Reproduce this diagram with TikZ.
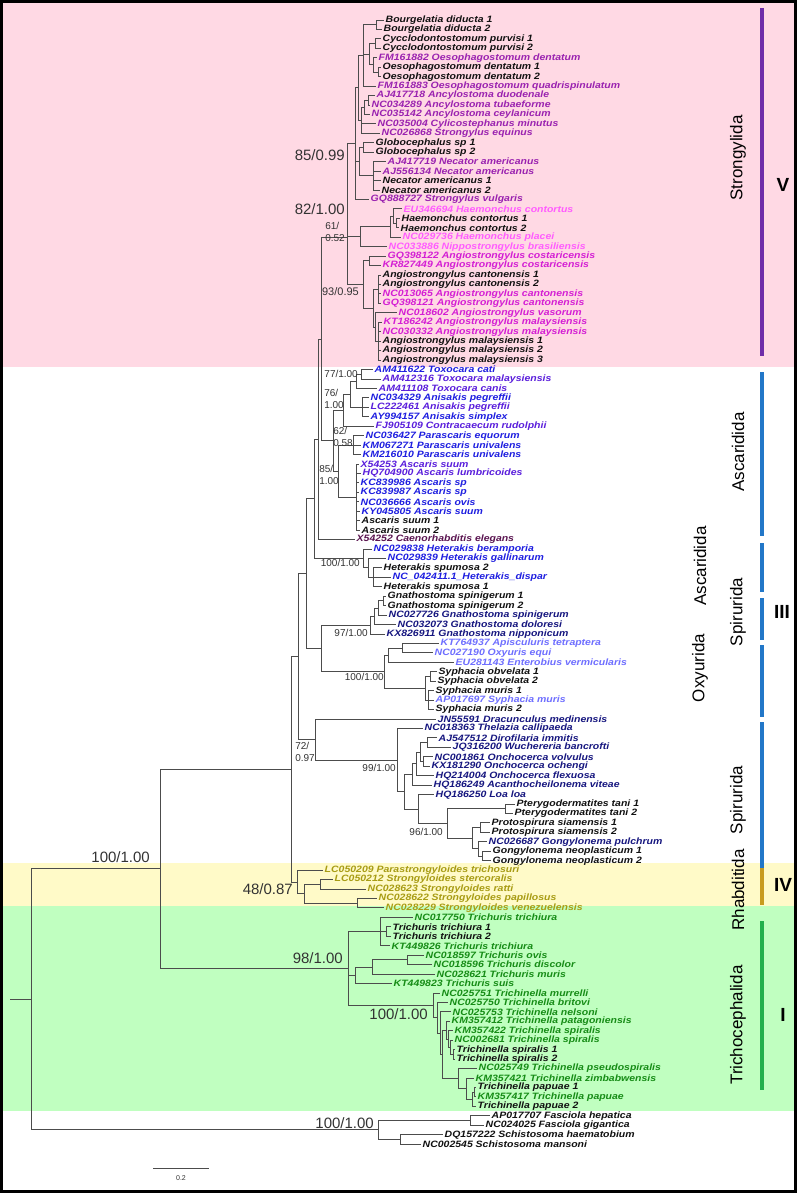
\documentclass[tikz,border=0pt]{standalone}
\usepackage{fontspec}
\setmainfont{Liberation Sans}
\newfontfamily\tipf[FakeStretch=1.14]{Liberation Sans}
\usetikzlibrary{calc}
\definecolor{cK}{HTML}{111111}
\definecolor{cP}{HTML}{9A22B0}
\definecolor{cPK}{HTML}{FF5CFF}
\definecolor{cM}{HTML}{D41ED4}
\definecolor{cB}{HTML}{1E1EE0}
\definecolor{cBV}{HTML}{5A1EDC}
\definecolor{cMR}{HTML}{5A1450}
\definecolor{cN}{HTML}{16167F}
\definecolor{cLB}{HTML}{6E6EFF}
\definecolor{cO}{HTML}{A89C14}
\definecolor{cG}{HTML}{168C16}
\definecolor{bgpink}{HTML}{FFD9E4}
\definecolor{bgyel}{HTML}{FFFAC8}
\definecolor{bggrn}{HTML}{C0FFC0}
\definecolor{barP}{HTML}{6F2DA8}
\definecolor{barB}{HTML}{2277C8}
\definecolor{barO}{HTML}{C89B1E}
\definecolor{barG}{HTML}{22B04C}
\definecolor{bsc}{HTML}{333333}
\newcommand\tp[4]{\coordinate (t#1) at (#2,{20+(#1-1)*9.446}); \node[tl,text=#3] (L#1) at (t#1) {#4};}
\newcommand\cl[4]{\path let \p1=($(#3)!.5!(#4)$) in coordinate (#1) at (#2pt,\y1); \draw[br] (#1) |- (#3); \draw[br] (#1) |- (#4);}
\newcommand\clm[5]{\cl{#1}{#2}{#3}{#4}\foreach \c in {#5}{\draw[br] (#1) |- (\c);}}
\begin{document}
\begin{tikzpicture}[x=1pt,y=-1pt,
  tl/.style={anchor=west,inner sep=0pt,xshift=1.5pt,font=\tipf\fontsize{9.2}{10}\selectfont\bfseries\itshape},
  br/.style={draw=black!70,line width=0.9pt},
  bbig/.style={text=bsc,inner sep=0pt,anchor=east,font=\fontsize{15}{16}\selectfont},
  bsm/.style={text=bsc,inner sep=0pt,anchor=east,font=\fontsize{10}{12}\selectfont,align=left},
  clab/.style={rotate=90,inner sep=0pt,font=\fontsize{17}{18}\selectfont},
  roman/.style={inner sep=0pt,font=\fontsize{19}{20}\selectfont\bfseries},
  bar/.style={line width=4pt}]
\useasboundingbox (0,0) rectangle (797,1193);
\fill[white] (0,0) rectangle (797,1193);
\fill[bgpink] (0,0) rectangle (797,367);
\fill[bgyel] (0,863) rectangle (797,906);
\fill[bggrn] (0,906) rectangle (797,1111);
% tips
\tp{1}{384}{cK}{Bourgelatia diducta 1}
\tp{2}{382}{cK}{Bourgelatia diducta 2}
\tp{3}{381}{cK}{Cycclodontostomum purvisi 1}
\tp{4}{381}{cK}{Cycclodontostomum purvisi 2}
\tp{5}{377}{cP}{FM161882 Oesophagostomum dentatum}
\tp{6}{381}{cK}{Oesophagostomum dentatum 1}
\tp{7}{381}{cK}{Oesophagostomum dentatum 2}
\tp{8}{376}{cP}{FM161883 Oesophagostomum quadrispinulatum}
\tp{9}{375}{cP}{AJ417718 Ancylostoma duodenale}
\tp{10}{370}{cP}{NC034289 Ancylostoma tubaeforme}
\tp{11}{370}{cP}{NC035142 Ancylostoma ceylanicum}
\tp{12}{376}{cP}{NC035004 Cylicostephanus minutus}
\tp{13}{380}{cP}{NC026868 Strongylus equinus}
\tp{14}{374}{cK}{Globocephalus sp 1}
\tp{15}{374}{cK}{Globocephalus sp 2}
\tp{16}{386}{cP}{AJ417719 Necator americanus}
\tp{17}{381}{cP}{AJ556134 Necator americanus}
\tp{18}{381}{cK}{Necator americanus 1}
\tp{19}{380}{cK}{Necator americanus 2}
\tp{20}{369}{cP}{GQ888727 Strongylus vulgaris}
\tp{21}{402}{cPK}{EU346694 Haemonchus contortus}
\tp{22}{400}{cK}{Haemonchus contortus 1}
\tp{23}{399}{cK}{Haemonchus contortus 2}
\tp{24}{401}{cPK}{NC029736 Haemonchus placei}
\tp{25}{387}{cPK}{NC033886 Nippostrongylus brasiliensis}
\tp{26}{386}{cM}{GQ398122 Angiostrongylus costaricensis}
\tp{27}{381}{cM}{KR827449 Angiostrongylus costaricensis}
\tp{28}{381}{cK}{Angiostrongylus cantonensis 1}
\tp{29}{381}{cK}{Angiostrongylus cantonensis 2}
\tp{30}{381}{cM}{NC013065 Angiostrongylus cantonensis}
\tp{31}{381}{cM}{GQ398121 Angiostrongylus cantonensis}
\tp{32}{397}{cM}{NC018602 Angiostrongylus vasorum}
\tp{33}{382}{cM}{KT186242 Angiostrongylus malaysiensis}
\tp{34}{381}{cM}{NC030332 Angiostrongylus malaysiensis}
\tp{35}{381}{cK}{Angiostrongylus malaysiensis 1}
\tp{36}{381}{cK}{Angiostrongylus malaysiensis 2}
\tp{37}{381}{cK}{Angiostrongylus malaysiensis 3}
\tp{38}{373}{cB}{AM411622 Toxocara cati}
\tp{39}{381}{cBV}{AM412316 Toxocara malaysiensis}
\tp{40}{377}{cBV}{AM411108 Toxocara canis}
\tp{41}{369}{cB}{NC034329 Anisakis pegreffii}
\tp{42}{369}{cBV}{LC222461 Anisakis pegreffii}
\tp{43}{369}{cB}{AY994157 Anisakis simplex}
\tp{44}{374}{cBV}{FJ905109 Contracaecum rudolphii}
\tp{45}{364}{cB}{NC036427 Parascaris equorum}
\tp{46}{361}{cB}{KM067271 Parascaris univalens}
\tp{47}{361}{cB}{KM216010 Parascaris univalens}
\tp{48}{359}{cBV}{X54253 Ascaris suum}
\tp{49}{361}{cBV}{HQ704900 Ascaris lumbricoides}
\tp{50}{359}{cB}{KC839986 Ascaris sp}
\tp{51}{359}{cB}{KC839987 Ascaris sp}
\tp{52}{359}{cB}{NC036666 Ascaris ovis}
\tp{53}{360}{cB}{KY045805 Ascaris suum}
\tp{54}{360}{cK}{Ascaris suum 1}
\tp{55}{360}{cK}{Ascaris suum 2}
\tp{56}{355}{cMR}{X54252 Caenorhabditis elegans}
\tp{57}{372}{cB}{NC029838 Heterakis beramporia}
\tp{58}{386}{cB}{NC029839 Heterakis gallinarum}
\tp{59}{382}{cK}{Heterakis spumosa 2}
\tp{60}{391}{cB}{NC\_042411.1\_Heterakis\_dispar}
\tp{61}{382}{cK}{Heterakis spumosa 1}
\tp{62}{386}{cK}{Gnathostoma spinigerum 1}
\tp{63}{386}{cK}{Gnathostoma spinigerum 2}
\tp{64}{387}{cN}{NC027726 Gnathostoma spinigerum}
\tp{65}{396}{cN}{NC032073 Gnathostoma doloresi}
\tp{66}{385}{cN}{KX826911 Gnathostoma nipponicum}
\tp{67}{439}{cLB}{KT764937 Apisculuris tetraptera}
\tp{68}{433}{cLB}{NC027190 Oxyuris equi}
\tp{69}{454}{cLB}{EU281143 Enterobius vermicularis}
\tp{70}{437}{cK}{Syphacia obvelata 1}
\tp{71}{436}{cK}{Syphacia obvelata 2}
\tp{72}{434}{cK}{Syphacia muris 1}
\tp{73}{434}{cLB}{AP017697 Syphacia muris}
\tp{74}{434}{cK}{Syphacia muris 2}
\tp{75}{436}{cN}{JN55591 Dracunculus medinensis}
\tp{76}{423}{cN}{NC018363 Thelazia callipaeda}
\tp{77}{437}{cN}{AJ547512 Dirofilaria immitis}
\tp{78}{451}{cN}{JQ316200 Wuchereria bancrofti}
\tp{79}{433}{cN}{NC001861 Onchocerca volvulus}
\tp{80}{430}{cN}{KX181290 Onchocerca ochengi}
\tp{81}{434}{cN}{HQ214004 Onchocerca flexuosa}
\tp{82}{432}{cN}{HQ186249 Acanthocheilonema viteae}
\tp{83}{434}{cN}{HQ186250 Loa loa}
\tp{84}{515}{cK}{Pterygodermatites tani 1}
\tp{85}{513}{cK}{Pterygodermatites tani 2}
\tp{86}{490}{cK}{Protospirura siamensis 1}
\tp{87}{490}{cK}{Protospirura siamensis 2}
\tp{88}{487}{cN}{NC026687 Gongylonema pulchrum}
\tp{89}{491}{cK}{Gongylonema neoplasticum 1}
\tp{90}{491}{cK}{Gongylonema neoplasticum 2}
\tp{91}{323}{cO}{LC050209 Parastrongyloides trichosuri}
\tp{92}{333}{cO}{LC050212 Strongyloides stercoralis}
\tp{93}{366}{cO}{NC028623 Strongyloides ratti}
\tp{94}{377}{cO}{NC028622 Strongyloides papillosus}
\tp{95}{384}{cO}{NC028229 Strongyloides venezuelensis}
\tp{96}{413}{cG}{NC017750 Trichuris trichiura}
\tp{97}{391}{cK}{Trichuris trichiura 1}
\tp{98}{391}{cK}{Trichuris trichiura 2}
\tp{99}{390}{cG}{KT449826 Trichuris trichiura}
\tp{100}{424}{cG}{NC018597 Trichuris ovis}
\tp{101}{432}{cG}{NC018596 Trichuris discolor}
\tp{102}{435}{cG}{NC028621 Trichuris muris}
\tp{103}{392}{cG}{KT449823 Trichuris suis}
\tp{104}{440}{cG}{NC025751 Trichinella murrelli}
\tp{105}{448}{cG}{NC025750 Trichinella britovi}
\tp{106}{451}{cG}{NC025753 Trichinella nelsoni}
\tp{107}{450}{cG}{KM357412 Trichinella patagoniensis}
\tp{108}{453}{cG}{KM357422 Trichinella spiralis}
\tp{109}{453}{cG}{NC002681 Trichinella spiralis}
\tp{110}{455}{cK}{Trichinella spiralis 1}
\tp{111}{455}{cK}{Trichinella spiralis 2}
\tp{112}{477}{cG}{NC025749 Trichinella pseudospiralis}
\tp{113}{474}{cG}{KM357421 Trichinella zimbabwensis}
\tp{114}{476}{cK}{Trichinella papuae 1}
\tp{115}{476}{cG}{KM357417 Trichinella papuae}
\tp{116}{476}{cK}{Trichinella papuae 2}
\tp{117}{490}{cK}{AP017707 Fasciola hepatica}
\tp{118}{484}{cK}{NC024025 Fasciola gigantica}
\tp{119}{443}{cK}{DQ157222 Schistosoma haematobium}
\tp{120}{421}{cK}{NC002545 Schistosoma mansoni}
% Strongylida
\cl{a1}{376}{t1}{t2}
\cl{a2}{375}{t3}{t4}
\cl{a4}{378}{t6}{t7}
\cl{a5}{373}{t5}{a4}
\cl{tm}{369}{a2}{a5}
\clm{tT}{363}{a1}{t8}{tm}
\cl{a8}{368}{t9}{t10}
\cl{a9}{364}{a8}{t11}
\clm{tB}{361}{a9}{t13}{t12}
\cl{a12}{358}{tT}{tB}
\cl{a13}{363}{t14}{t15}
\clm{a14}{373}{t16}{t19}{t17,t18}
\cl{a16}{359}{a13}{a14}
\clm{u}{355}{a12}{t20}{a16}
\cl{h1}{396}{t22}{t23}
\cl{h2}{393}{t21}{h1}
\cl{h3}{390}{h2}{t24}
\cl{h4}{360}{h3}{t25}
\cl{sA}{347}{u}{h4}
\cl{g1}{369}{t26}{t27}
\clm{ac}{378}{t28}{t31}{t29,t30}
\clm{am}{378}{t33}{t37}{t34,t35,t36}
\cl{av}{375}{t32}{am}
\cl{aa}{373}{ac}{av}
\cl{ang}{363}{g1}{aa}
\cl{sB}{347}{sA}{ang}
% Ascaridida
\cl{tx1}{361}{t38}{t39}
\cl{tx}{356}{tx1}{t40}
\clm{an}{362}{t41}{t43}{t42}
\cl{k1}{350}{tx}{an}
\cl{k2}{343}{k1}{t44}
\clm{pp}{353}{t45}{t47}{t46}
\clm{as}{356}{t48}{t55}{t49,t50,t51,t52,t53,t54}
\cl{pa}{338}{pp}{as}
\cl{asc}{333}{k2}{pa}
\cl{v2}{321}{sB}{asc}
\cl{v1}{318}{v2}{t56}
\clm{he1}{373}{t59}{t61}{t60}
\cl{he2}{368}{t58}{he1}
\cl{he}{363}{t57}{he2}
\cl{xx}{314}{v1}{he}
% Gnathostoma + Oxyurida
\cl{gn1}{383}{t62}{t63}
\cl{gn2}{378}{gn1}{t64}
\cl{gn3}{374}{gn2}{t65}
\cl{gn}{370}{gn3}{t66}
\cl{ox1}{402}{t67}{t68}
\cl{ox2}{388}{ox1}{t69}
\cl{sy1}{430}{t70}{t71}
\clm{sy2}{428}{t72}{t74}{t73}
\cl{sy}{425}{sy1}{sy2}
\cl{ox}{384}{ox2}{sy}
\cl{go}{321}{gn}{ox}
\cl{r1}{306}{xx}{go}
% Spirurida
\cl{d1}{427}{t77}{t78}
\cl{o1}{423}{t79}{t80}
\cl{o2}{420}{d1}{o1}
\cl{o3}{416}{o2}{t81}
\cl{fil}{412}{o3}{t82}
\cl{pter}{505}{t84}{t85}
\cl{pro}{480}{t86}{t87}
\cl{go1}{482}{t89}{t90}
\cl{go2}{478}{t88}{go1}
\cl{pro2}{472}{pro}{go2}
\cl{pt}{447}{pter}{pro2}
\cl{lp}{418}{t83}{pt}
\cl{f2}{404}{fil}{lp}
\cl{sp1}{397}{t76}{f2}
\cl{spb}{315}{t75}{sp1}
\cl{q}{298}{r1}{spb}
% Rhabditida
\cl{rh1}{357}{t94}{t95}
\cl{rh2}{320}{t92}{t93}
\cl{rh3}{304}{rh2}{rh1}
\cl{rh}{297}{t91}{rh3}
\cl{n48}{291}{q}{rh}
% Trichocephalida
\cl{tt1}{386}{t97}{t98}
\clm{tt}{380}{t96}{t99}{tt1}
\cl{to1}{407}{t100}{t101}
\cl{to2}{372}{to1}{t102}
\cl{to3}{355}{to2}{t103}
\cl{tn1a}{453}{t110}{t111}
\cl{tn1b}{450}{t109}{tn1a}
\cl{tn1c}{448}{t108}{tn1b}
\cl{tn1d}{446}{t107}{tn1c}
\cl{tn2a}{474}{t114}{t115}
\cl{tn2b}{472}{tn2a}{t116}
\cl{tn2c}{466}{t113}{tn2b}
\cl{tn2}{458}{t112}{tn2c}
\cl{tq3}{442}{tn1d}{tn2}
\cl{tq2}{440}{t106}{tq3}
\cl{tq1}{437}{t105}{tq2}
\cl{tn}{433}{t104}{tq1}
\clm{tri}{348}{tt}{tn}{to3}
\cl{gg}{160}{n48}{tri}
% outgroup
\cl{fa}{470}{t117}{t118}
\cl{sc}{400}{t119}{t120}
\cl{out}{378}{fa}{sc}
\cl{root}{31}{gg}{out}
\path let \p1=(root) in coordinate (rs) at (10pt,\y1);
\draw[br] (rs) -- (root);
% support values
\node[bbig] (lb1) at (345,155) {85/0.99};
\node[bbig] (lb2) at (345,209) {82/1.00};
\node[bbig] (lb3) at (150,857) {100/1.00};
\node[bbig] (lb4) at (293,889) {48/0.87};
\node[bbig] (lb5) at (343,958) {98/1.00};
\node[bbig] (lb6) at (428,1014) {100/1.00};
\node[bbig] (lb7) at (374,1123) {100/1.00};
\node[bsm] (m1) at (345,232) {61/\\0.52};
\node[bsm,font=\fontsize{11}{12}\selectfont] (m2) at (359,292) {93/0.95};
\node[bsm] (m3) at (358,374) {77/1.00};
\node[bsm] (m4) at (344,399) {76/\\1.00};
\node[bsm] (m5) at (353,437) {62/\\0.58};
\node[bsm] (m6) at (339,475) {85/\\1.00};
\node[bsm] (m7) at (360,563) {100/1.00};
\node[bsm] (m8) at (368,633) {97/1.00};
\node[bsm] (m9) at (384,677) {100/1.00};
\node[bsm] (m10) at (315,752) {72/\\0.97};
\node[bsm] (m11) at (396,768) {99/1.00};
\node[bsm] (m12) at (443,832) {96/1.00};
% scale bar
\coordinate (sb1) at (153,1168); \coordinate (sb2) at (209,1168);
\draw[br] (sb1) -- (sb2);
\node[text=bsc,inner sep=0pt,font=\fontsize{7}{8}\selectfont] (sbl) at (181,1178) {0.2};
% right-hand bars and labels
\draw[bar,barP] (762,8) -- (762,356);
\draw[bar,barB] (762,372) -- (762,536);
\draw[bar,barB] (762,543) -- (762,592);
\draw[bar,barB] (762,598) -- (762,640);
\draw[bar,barB] (762,645) -- (762,717);
\draw[bar,barB] (762,722) -- (762,868);
\draw[bar,barO] (762,868) -- (762,905);
\draw[bar,barG] (762,921) -- (762,1090);
\node[clab] (c1) at (738,158) {Strongylida};
\node[clab] (c2) at (738,452) {Ascaridida};
\node[clab] (c3) at (700,566) {Ascaridida};
\node[clab] (c4) at (738,612) {Spirurida};
\node[clab] (c5) at (700,668) {Oxyurida};
\node[clab] (c6) at (738,800) {Spirurida};
\node[clab] (c7) at (738,890) {Rhabditida};
\node[clab] (c8) at (738,1025) {Trichocephalida};
\node[roman] (r5) at (783,185) {V};
\node[roman] (r3) at (782,612) {III};
\node[roman] (r4) at (783,885) {IV};
\node[roman] (r1) at (783,1015) {I};
\draw[line width=3pt] (1.5,1.5) rectangle (795.5,1191.5);
\end{tikzpicture}
\end{document}
